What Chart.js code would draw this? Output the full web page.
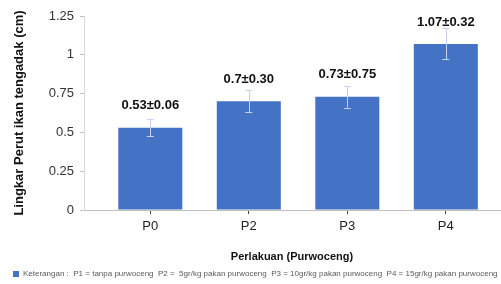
<!DOCTYPE html>
<html>
<head>
<meta charset="utf-8">
<script src="https://cdn.jsdelivr.net/npm/chart.js@4"></script>
<style>
  html, body { margin: 0; padding: 0; background: #fff; }
  #wrap { width: 501px; height: 284px; }
</style>
</head>
<body>
<div id="wrap"><canvas id="chart" width="501" height="284"></canvas></div>
<script>
// Dati
const labels = ['P0', 'P2', 'P3', 'P4'];
const means = [0.53, 0.70, 0.73, 1.07];
const sdText = ['0.06', '0.30', '0.75', '0.32'];
// barre di errore come disegnate nella figura (non uguali alle SD scritte)
const errDrawn = [0.055, 0.07, 0.07, 0.10];
const legendText = 'Keterangan :  P1 = tanpa purwoceng  P2 =  5gr/kg pakan purwoceng  P3 = 10gr/kg pakan purwoceng  P4 = 15gr/kg pakan purwoceng';

const FONT = "'Liberation Sans', Arial, sans-serif";
const BLUE = '#4472C4';

// Barre di errore + etichette dei valori
const errorBarsPlugin = {
    id: 'errorBars',
    afterDatasetsDraw(chart) {
        const ctx = chart.ctx;
        const yScale = chart.scales.y;
        const meta = chart.getDatasetMeta(0);
        ctx.save();
        meta.data.forEach((bar, i) => {
            const x = bar.x;
            const yTop = yScale.getPixelForValue(means[i] + errDrawn[i]);
            const yBot = yScale.getPixelForValue(means[i] - errDrawn[i]);
            ctx.strokeStyle = '#c3d3ef';
            ctx.lineWidth = 1;
            ctx.beginPath();
            ctx.moveTo(Math.round(x) + 0.5, yTop);
            ctx.lineTo(Math.round(x) + 0.5, yBot);
            ctx.moveTo(x - 3.5, Math.round(yTop) + 0.5);
            ctx.lineTo(x + 3.5, Math.round(yTop) + 0.5);
            ctx.moveTo(x - 3.5, Math.round(yBot) + 0.5);
            ctx.lineTo(x + 3.5, Math.round(yBot) + 0.5);
            ctx.stroke();

            ctx.fillStyle = '#111';
            ctx.font = 'bold 13px ' + FONT;
            ctx.textAlign = 'center';
            ctx.textBaseline = 'middle';
            const txt = (i === 1 ? '0.7' : means[i].toFixed(2)) + '±' + sdText[i];
            ctx.fillText(txt, x, bar.y - 22);
        });
        ctx.restore();
    }
};

const ctx = document.getElementById('chart').getContext('2d');
new Chart(ctx, {
    type: 'bar',
    data: {
        datasets: [{
            label: legendText,
            data: means.map((v, i) => ({ x: i, y: v })),
            backgroundColor: BLUE,
            borderWidth: 0,
            barPercentage: 0.65,
            categoryPercentage: 1
        }]
    },
    options: {
        responsive: false,
        animation: false,
        layout: { padding: { left: 5, right: 1, top: 16, bottom: -4 } },
        plugins: {
            tooltip: { enabled: false },
            legend: {
                position: 'bottom',
                align: 'start',
                labels: {
                    boxWidth: 6,
                    boxHeight: 6,
                    padding: 8,
                    color: '#595959',
                    font: { family: FONT, size: 8 }
                }
            }
        },
        scales: {
            x: {
                type: 'linear',
                offset: false,
                min: -0.673,
                max: 3.55,
                afterBuildTicks: (scale) => {
                    scale.ticks = labels.map((l, i) => ({ value: i }));
                },
                afterFit: (scale) => { scale.height = 52; },
                grid: {
                    offset: false,
                    drawOnChartArea: false,
                    drawTicks: true,
                    tickLength: 4,
                    color: '#404040'
                },
                border: { color: '#bfbfbf' },
                ticks: {
                    padding: 5,
                    color: '#222',
                    font: { family: FONT, size: 13 },
                    callback: (v) => labels[v] !== undefined ? labels[v] : ''
                },
                title: {
                    display: true,
                    text: 'Perlakuan (Purwoceng)',
                    color: '#111',
                    font: { family: FONT, size: 11, weight: 'bold' },
                    padding: { top: 0, bottom: -2 }
                }
            },
            y: {
                min: 0,
                max: 1.25,
                afterFit: (scale) => { scale.width = 79; },
                grid: {
                    drawOnChartArea: false,
                    drawTicks: true,
                    tickLength: 4,
                    color: '#bfbfbf'
                },
                border: { color: '#d9d9d9' },
                ticks: {
                    stepSize: 0.25,
                    padding: 6,
                    color: '#333',
                    font: { family: FONT, size: 13 },
                    callback: (v) => String(v)
                },
                title: {
                    display: true,
                    text: 'Lingkar Perut ikan tengadak (cm)',
                    color: '#111',
                    font: { family: FONT, size: 13, weight: 'bold' },
                    padding: 7
                }
            }
        }
    },
    plugins: [errorBarsPlugin]
});
</script>
</body>
</html>
